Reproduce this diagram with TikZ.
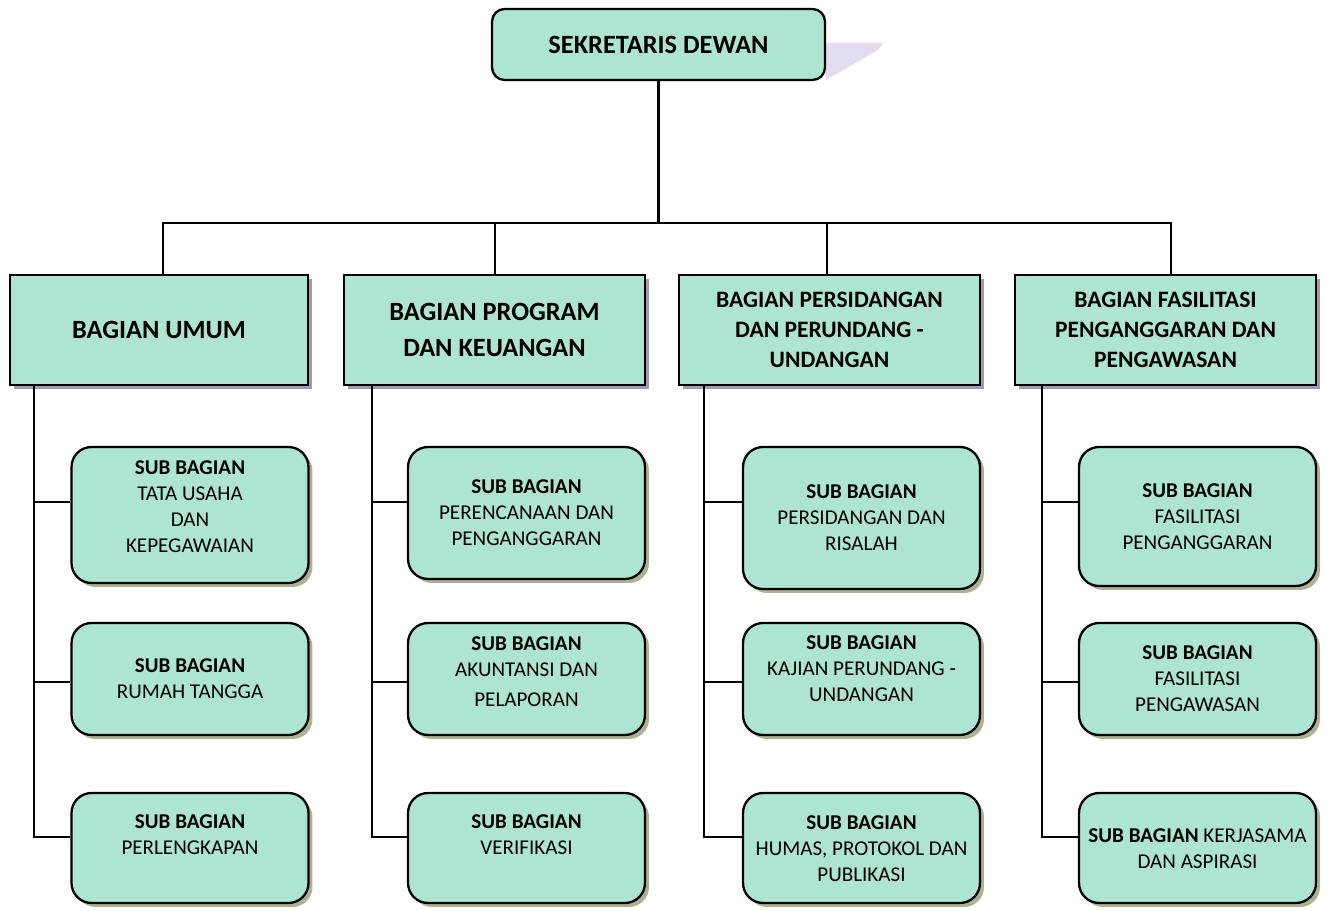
\documentclass[tikz,border=0pt]{standalone}
\usepackage{fontspec}
\setmainfont{Carlito}
\usepackage{xcolor}
\definecolor{Col1}{RGB}{173,229,210}
\definecolor{Col2}{RGB}{158,154,178}
\definecolor{Col3}{RGB}{172,177,146}
\definecolor{Col4}{RGB}{226,222,240}
\usepackage{tikz}
\usetikzlibrary{shadows}
\tikzstyle{NodeTop}=[draw=black,fill=Col1,line width=1.3pt,rounded corners=0.25cm,
minimum width=6.66cm,minimum height=1.42cm,inner sep=0pt,
font=\fontsize{15}{18}\selectfont\bfseries]
\tikzstyle{NodeB}=[draw=black,fill=Col1,line width=1.3pt,minimum width=6.02cm,
minimum height=2.2cm,inner sep=0pt,align=center,
drop shadow={shadow xshift=0.08cm,shadow yshift=-0.08cm,fill=Col2,opacity=1}]
\tikzstyle{NodeSB}=[draw=black,fill=Col1,line width=1.3pt,rounded corners=0.4cm,
minimum width=4.74cm,inner sep=0pt,
drop shadow={shadow xshift=0.08cm,shadow yshift=-0.08cm,fill=Col3,opacity=1}]
\tikzstyle{NodeTxt}=[align=center,inner sep=0pt,font=\fontsize{12}{14.8}\selectfont]
\tikzstyle{Edge}=[draw=black,line width=1.2pt]
\tikzstyle{BigF}=[font=\fontsize{15}{21}\selectfont\bfseries]
\tikzstyle{MidF}=[font=\fontsize{13.4}{17}\selectfont\bfseries]

\begin{document}
\begin{tikzpicture}[x=0.02cm,y=-0.02cm]
    \useasboundingbox(0,0)rectangle(1327,911);
    \fill[Col4](823,43)--(883,43)--(878,50)--(826,80)--cycle;
    \node[NodeTop](sek)at(658.5,44.5){\raisebox{-1.5pt}{SEKRETARIS DEWAN}};
    \node[NodeB,BigF,minimum width=5.96cm](b1)at(159,330){BAGIAN UMUM};
    \node[NodeB,BigF](b2)at(494.5,330){BAGIAN PROGRAM\\DAN KEUANGAN};
    \node[NodeB,MidF](b3)at(829.5,330)
        {BAGIAN PERSIDANGAN\\DAN PERUNDANG -\\UNDANGAN};
    \node[NodeB,MidF](b4)at(1165.5,330)
        {BAGIAN FASILITASI\\PENGANGGARAN DAN\\PENGAWASAN};
    \node[NodeSB,minimum height=2.72cm](s11)at(190,515){};
    \node[NodeSB,minimum height=2.24cm](s12)at(190,679){};
    \node[NodeSB,minimum height=2.2cm](s13)at(190,848){};
    \node[NodeSB,minimum height=2.64cm](s21)at(526.5,513){};
    \node[NodeSB,minimum height=2.24cm](s22)at(526.5,679){};
    \node[NodeSB,minimum height=2.2cm](s23)at(526.5,848){};
    \node[NodeSB,minimum height=2.84cm](s31)at(861.5,518){};
    \node[NodeSB,minimum height=2.24cm](s32)at(861.5,679){};
    \node[NodeSB,minimum height=2.2cm](s33)at(861.5,848){};
    \node[NodeSB,minimum height=2.78cm](s41)at(1197.5,516.5){};
    \node[NodeSB,minimum height=2.24cm](s42)at(1197.5,679){};
    \node[NodeSB,minimum height=2.2cm](s43)at(1197.5,848){};
    \node[NodeTxt](t11)at(190,507)
        {\textbf{SUB BAGIAN}\\TATA USAHA\\DAN\\KEPEGAWAIAN};
    \node[NodeTxt](t12)at(190,679){\textbf{SUB BAGIAN}\\RUMAH TANGGA};
    \node[NodeTxt](t13)at(190,835){\textbf{SUB BAGIAN}\\PERLENGKAPAN};
    \node[NodeTxt](t21)at(526.5,513)
        {\textbf{SUB BAGIAN}\\PERENCANAAN DAN\\PENGANGGARAN};
    \node[NodeTxt](t22)at(526.5,672)
        {\textbf{SUB BAGIAN}\\AKUNTANSI DAN\\[2.3pt]PELAPORAN};
    \node[NodeTxt](t23)at(526.5,835){\textbf{SUB BAGIAN}\\VERIFIKASI};
    \node[NodeTxt](t31)at(861.5,518)
        {\textbf{SUB BAGIAN}\\PERSIDANGAN DAN\\RISALAH};
    \node[NodeTxt](t32)at(861.5,669)
        {\textbf{SUB BAGIAN}\\KAJIAN PERUNDANG -\\UNDANGAN};
    \node[NodeTxt](t33)at(861.5,849)
        {\textbf{SUB BAGIAN}\\HUMAS, PROTOKOL DAN\\PUBLIKASI};
    \node[NodeTxt](t41)at(1197.5,517)
        {\textbf{SUB BAGIAN}\\FASILITASI\\PENGANGGARAN};
    \node[NodeTxt](t42)at(1197.5,679)
        {\textbf{SUB BAGIAN}\\FASILITASI\\PENGAWASAN};
    \node[NodeTxt](t43)at(1197.5,849)
        {\textbf{SUB BAGIAN} KERJASAMA\\DAN ASPIRASI};
    \coordinate(bar)at(658.5,223);
    \coordinate(d1)at(163,0);
    \coordinate(d2)at(495,0);
    \coordinate(d3)at(827,0);
    \coordinate(d4)at(1171,0);
    \coordinate(v1)at(34,0);
    \coordinate(v2)at(372,0);
    \coordinate(v3)at(704,0);
    \coordinate(v4)at(1042,0);
    \coordinate(r1)at(0,502);
    \coordinate(r2)at(0,682);
    \coordinate(r3)at(0,837);
    \draw[Edge](sek.south)--(bar);
    \draw[Edge](b1.north-|d1)|-(bar);
    \draw[Edge](b2.north-|d2)|-(bar);
    \draw[Edge](b3.north-|d3)|-(bar);
    \draw[Edge](b4.north-|d4)|-(bar);
    \draw[Edge](b1.south-|v1)|-(s13.west|-r3);
    \draw[Edge](v1|-r1)--(s11.west|-r1);
    \draw[Edge](v1|-r2)--(s12.west|-r2);
    \draw[Edge](b2.south-|v2)|-(s23.west|-r3);
    \draw[Edge](v2|-r1)--(s21.west|-r1);
    \draw[Edge](v2|-r2)--(s22.west|-r2);
    \draw[Edge](b3.south-|v3)|-(s33.west|-r3);
    \draw[Edge](v3|-r1)--(s31.west|-r1);
    \draw[Edge](v3|-r2)--(s32.west|-r2);
    \draw[Edge](b4.south-|v4)|-(s43.west|-r3);
    \draw[Edge](v4|-r1)--(s41.west|-r1);
    \draw[Edge](v4|-r2)--(s42.west|-r2);
\end{tikzpicture}
\end{document}
